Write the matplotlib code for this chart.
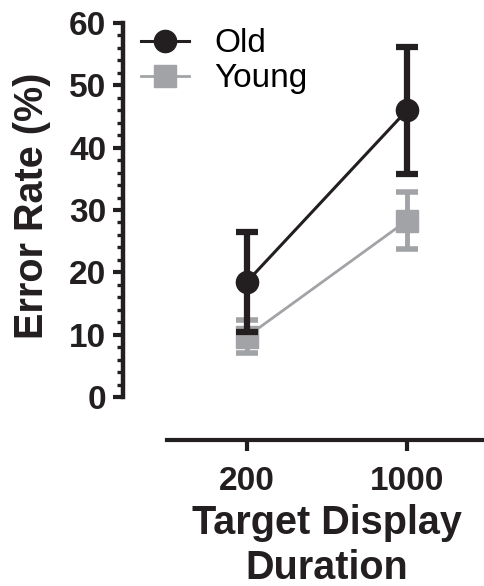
import numpy as np
import matplotlib
matplotlib.use("Agg")
import matplotlib.pyplot as plt
from matplotlib.ticker import MultipleLocator

plt.rcParams['font.family'] = ['Liberation Sans', 'DejaVu Sans']

durations = ["200", "1000"]
old_mean = [18.5, 46.0]
old_err = [8.0, 10.2]
young_mean = [9.7, 28.3]
young_err = [2.6, 4.6]

black = '#231f20'
gray = '#a2a3a6'

fig = plt.figure(figsize=(4.85, 5.86), dpi=100)
ax = fig.add_axes([123/485, 1 - 397/586, 1 - 123/485, (397 - 23)/586])

x = np.arange(len(durations))

ax.errorbar(x, young_mean, yerr=young_err, fmt='none', ecolor=gray,
            elinewidth=3.5, capsize=8, capthick=4, zorder=2)
ax.plot(x, young_mean, color=gray, lw=2, marker='s', ms=15.5,
        mec=gray, mfc=gray, label='Young', zorder=3)
ax.errorbar(x, old_mean, yerr=old_err, fmt='none', ecolor=black,
            elinewidth=4.5, capsize=8, capthick=4.5, zorder=4)
ax.plot(x, old_mean, color=black, lw=2.2, marker='o', ms=16,
        mec=black, mfc=black, label='Old', zorder=5)

ax.set_xlim(-0.775, 1.4875)
ax.set_ylim(0, 60)
ax.yaxis.set_major_locator(MultipleLocator(10))
ax.yaxis.set_minor_locator(MultipleLocator(2))
ax.set_xticks(x)
ax.set_xticklabels(durations)

for s in ['top', 'right']:
    ax.spines[s].set_visible(False)
ax.spines['left'].set_linewidth(3.2)
ax.spines['left'].set_color(black)
ax.spines['left'].set_bounds(0, 60)
ax.spines['bottom'].set_linewidth(3)
ax.spines['bottom'].set_color(black)
ax.spines['bottom'].set_position(('outward', 31))
ax.spines['bottom'].set_bounds(-0.5, 1.6)

ax.tick_params(axis='y', which='major', length=7, width=3, color=black,
               labelsize=24, pad=5)
ax.tick_params(axis='y', which='minor', length=4, width=2.4, color=black)
ax.tick_params(axis='x', which='major', length=8, width=3, color=black,
               labelsize=24, pad=11)
for lab in ax.get_xticklabels() + ax.get_yticklabels():
    lab.set_fontweight('bold')
    lab.set_color(black)

ax.set_ylabel('Error Rate (%)', fontsize=28.5, fontweight='bold', color=black)
ax.yaxis.set_label_coords(-0.198, 0.51)
ax.set_xlabel('Target Display\nDuration', fontsize=28.5, fontweight='bold', color=black,
              linespacing=1.22)
ax.xaxis.set_label_coords((327 - 123) / 362, -0.287)

handles, labels = ax.get_legend_handles_labels()
ax.legend(handles[::-1], labels[::-1], loc='upper left', bbox_to_anchor=(0.05, 0.986),
          frameon=False, fontsize=24, handlelength=1.45, handletextpad=0.75,
          labelspacing=0.12, borderpad=0, borderaxespad=0)

fig.savefig('out.png', dpi=100)
